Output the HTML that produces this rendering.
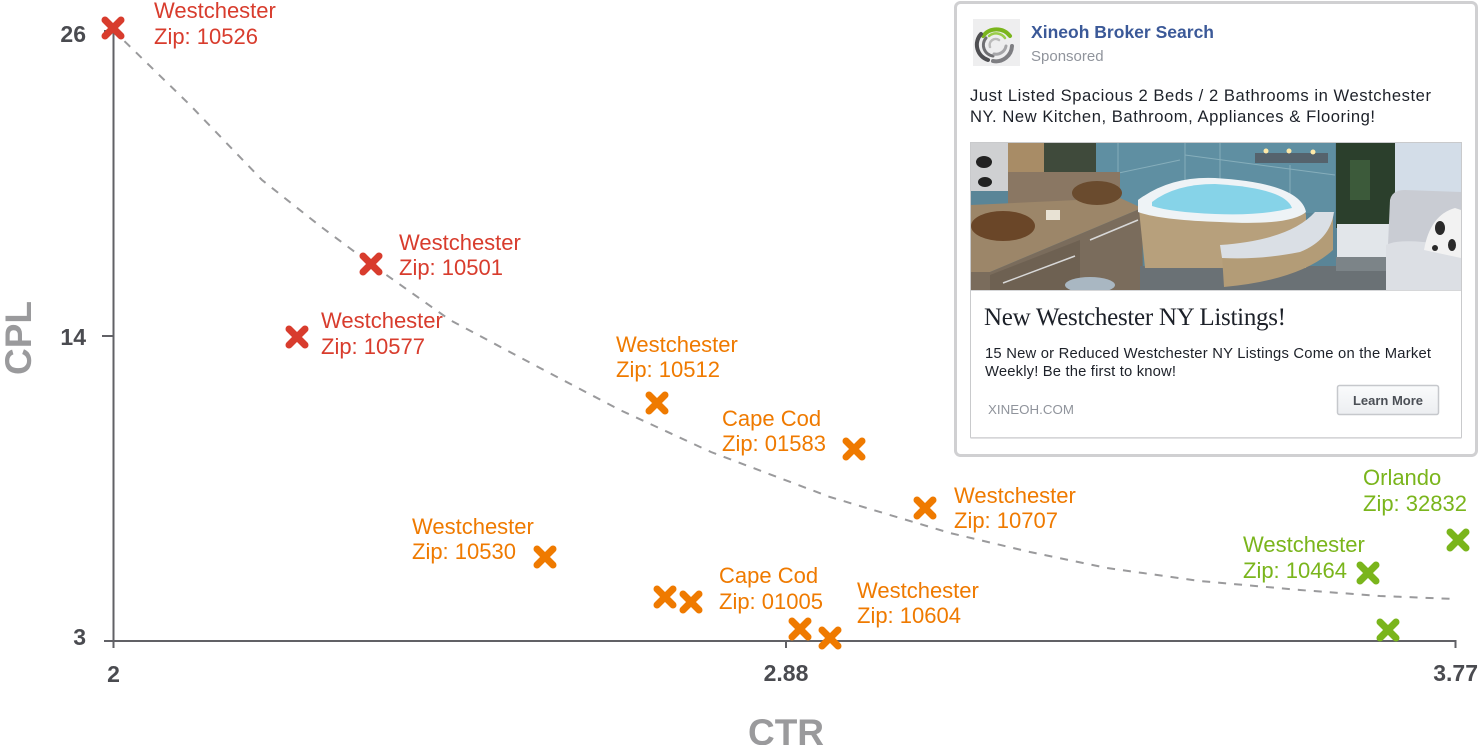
<!DOCTYPE html>
<html><head><meta charset="utf-8">
<style>
html,body{margin:0;padding:0;background:#fff;}
svg{display:block;}
text{font-family:"Liberation Sans",Arial,sans-serif;}
</style></head>
<body>
<svg width="1480" height="745" viewBox="0 0 1480 745" xmlns="http://www.w3.org/2000/svg">
<rect x="0" y="0" width="1480" height="745" fill="#fff"/>

<!-- axes -->
<g stroke="#616166" stroke-width="2" fill="none">
  <line x1="113.5" y1="30" x2="113.5" y2="648"/>
  <line x1="104" y1="641" x2="1456" y2="641"/>
  <line x1="1455.5" y1="640" x2="1455.5" y2="648"/>
  <line x1="786" y1="641" x2="786" y2="648"/>
  <line x1="102" y1="336" x2="113" y2="336"/>
  <line x1="104" y1="31" x2="113" y2="31"/>
</g>

<!-- tick labels -->
<g font-weight="bold" font-size="23" fill="#4a4b50">
  <text x="86" y="42" text-anchor="end">26</text>
  <text x="86" y="345" text-anchor="end">14</text>
  <text x="86" y="645" text-anchor="end">3</text>
  <text x="113.5" y="682" text-anchor="middle">2</text>
  <text x="786" y="681" text-anchor="middle">2.88</text>
  <text x="1478" y="681" text-anchor="end">3.77</text>
</g>

<!-- axis titles -->
<text x="786" y="745" text-anchor="middle" font-weight="bold" font-size="37" fill="#9a9a9c">CTR</text>
<text transform="translate(31,338) rotate(-90)" text-anchor="middle" font-weight="bold" font-size="37" fill="#9a9a9c">CPL</text>

<!-- trend curve -->
<polyline fill="none" stroke="#9a9a9c" stroke-width="2" stroke-dasharray="8 8"
 points="113,30 190,105 262,180 320,226 371,264 450,320 540,368 620,410 711,452 830,497 950,533 1030,552 1107,568 1200,581 1300,590 1380,596 1455,599"/>

<!-- markers -->
<g fill="none" stroke-width="7" stroke-linecap="round">
  <g stroke="#d83c2d">
    <path d="M105,20 L121,36 M121,20 L105,36"/>
    <path d="M363,256 L379,272 M379,256 L363,272"/>
    <path d="M289,329 L305,345 M305,329 L289,345"/>
  </g>
  <g stroke="#ef7a00">
    <path d="M649,395 L665,411 M665,395 L649,411"/>
    <path d="M846,441 L862,457 M862,441 L846,457"/>
    <path d="M917,500 L933,516 M933,500 L917,516"/>
    <path d="M537,549 L553,565 M553,549 L537,565"/>
    <path d="M657,589 L673,605 M673,589 L657,605"/>
    <path d="M683,594 L699,610 M699,594 L683,610"/>
    <path d="M792,621 L808,637 M808,621 L792,637"/>
    <path d="M822,630 L838,646 M838,630 L822,646"/>
  </g>
  <g stroke="#7ab51c">
    <path d="M1450,532 L1466,548 M1466,532 L1450,548"/>
    <path d="M1360,565 L1376,581 M1376,565 L1360,581"/>
    <path d="M1380,622 L1396,638 M1396,622 L1380,638"/>
  </g>
</g>

<!-- labels -->
<g font-size="22">
  <g fill="#d83c2d">
    <text x="154" y="18">Westchester</text><text x="154" y="44">Zip: 10526</text>
    <text x="399" y="250">Westchester</text><text x="399" y="275">Zip: 10501</text>
    <text x="321" y="328">Westchester</text><text x="321" y="354">Zip: 10577</text>
  </g>
  <g fill="#ef7a00">
    <text x="616" y="352">Westchester</text><text x="616" y="377">Zip: 10512</text>
    <text x="722" y="426">Cape Cod</text><text x="722" y="451">Zip: 01583</text>
    <text x="954" y="503">Westchester</text><text x="954" y="528">Zip: 10707</text>
    <text x="412" y="534">Westchester</text><text x="412" y="559">Zip: 10530</text>
    <text x="719" y="583">Cape Cod</text><text x="719" y="609">Zip: 01005</text>
    <text x="857" y="598">Westchester</text><text x="857" y="623">Zip: 10604</text>
  </g>
  <g fill="#7ab51c">
    <text x="1363" y="485">Orlando</text><text x="1363" y="511">Zip: 32832</text>
    <text x="1243" y="552">Westchester</text><text x="1243" y="578">Zip: 10464</text>
  </g>
</g>

<!-- Ad card -->
<rect x="955.5" y="2.5" width="521" height="453" rx="5" ry="5" fill="#fff" stroke="#d0d0d2" stroke-width="3"/>
<!-- logo -->
<rect x="973" y="19" width="47" height="47" fill="#eeeeef"/>
<g fill="none" stroke-linecap="round">
  <path d="M1010,36 A17,17 0 0 0 983,36" stroke="#7ab51c" stroke-width="4"/>
  <path d="M1005,38 A11,11 0 0 0 989,36" stroke="#9acd4a" stroke-width="2.5"/>
  <path d="M981,34 A16,16 0 0 0 988,60" stroke="#4f4f52" stroke-width="4"/>
  <path d="M986,38 A11,11 0 0 0 993,56" stroke="#6f6f72" stroke-width="3"/>
  <path d="M1012,46 A16,16 0 0 1 993,61" stroke="#7e7e82" stroke-width="4"/>
  <path d="M1006,46 A10,10 0 0 1 994,54" stroke="#a5a5a8" stroke-width="3"/>
  <path d="M990,47 A6,6 0 0 1 999,40" stroke="#bbb" stroke-width="2.5"/>
</g>
<text x="1031" y="38" font-size="17.5" font-weight="bold" fill="#3b5998" textLength="183">Xineoh Broker Search</text>
<text x="1031" y="61" font-size="15" fill="#90949c">Sponsored</text>
<text x="970" y="101" font-size="16.6" fill="#1d2129" textLength="461">Just Listed Spacious 2 Beds / 2 Bathrooms in Westchester</text>
<text x="970" y="122" font-size="16.6" fill="#1d2129" textLength="405">NY. New Kitchen, Bathroom, Appliances &amp; Flooring!</text>

<!-- inner card -->
<rect x="970.5" y="142.5" width="491" height="295" fill="#fff" stroke="#c9cacc" stroke-width="1"/>
<rect x="970.5" y="437.5" width="491" height="1.5" fill="#e2e2e4"/>

<!-- photo -->
<defs><clipPath id="ph"><rect x="971" y="143" width="490" height="147"/></clipPath></defs>
<g clip-path="url(#ph)">
  <rect x="971" y="143" width="490" height="147" fill="#5a8597"/>
  <!-- tile wall -->
  <rect x="1095" y="143" width="240" height="70" fill="#5f8fa2"/>
  <g stroke="#86aebb" stroke-width="1">
    <line x1="1118" y1="143" x2="1118" y2="205"/><line x1="1185" y1="143" x2="1185" y2="185"/>
    <line x1="1220" y1="143" x2="1220" y2="180"/><line x1="1290" y1="165" x2="1290" y2="210"/>
    <line x1="1095" y1="178" x2="1180" y2="160"/><line x1="1185" y1="155" x2="1335" y2="175"/>
  </g>
  <rect x="1255" y="153" width="73" height="10" fill="#55636d"/>
  <circle cx="1266" cy="151" r="2.5" fill="#ffe9a8"/><circle cx="1289" cy="151" r="2.5" fill="#ffe9a8"/><circle cx="1313" cy="152" r="2.5" fill="#ffe9a8"/>
  <!-- left cabinet / mirror -->
  <rect x="971" y="143" width="38" height="48" fill="#cfd0d2"/>
  <ellipse cx="984" cy="162" rx="8" ry="6" fill="#222"/>
  <ellipse cx="985" cy="182" rx="7" ry="5" fill="#222"/>
  <rect x="1008" y="143" width="36" height="34" fill="#a88c66"/>
  <rect x="1044" y="143" width="52" height="32" fill="#3f4a3b"/>
  <rect x="1008" y="172" width="112" height="35" fill="#8a7763"/>
  <!-- countertop -->
  <polygon points="971,205 1120,198 1142,208 990,272 971,272" fill="#9c8669"/>
  <ellipse cx="1003" cy="226" rx="32" ry="15" fill="#6a4628"/>
  <ellipse cx="1097" cy="193" rx="25" ry="12" fill="#6a4b2e"/>
  <rect x="1046" y="210" width="14" height="10" fill="#e8e2d4"/>
  <!-- vanity front -->
  <polygon points="971,272 990,272 1142,208 1143,290 971,290" fill="#7a6c5c"/>
  <polygon points="990,275 1080,240 1080,290 990,290" fill="#6e6152"/>
  <line x1="1003" y1="283" x2="1075" y2="256" stroke="#d8d8d8" stroke-width="1.5"/>
  <line x1="1090" y1="240" x2="1138" y2="220" stroke="#d8d8d8" stroke-width="1.5"/>
  <ellipse cx="1090" cy="285" rx="25" ry="8" fill="#a9b7c2"/>
  <!-- floor -->
  <rect x="1140" y="266" width="260" height="24" fill="#6a7175"/>
  <!-- tub -->
  <path d="M1138,200 Q1170,178 1215,180 Q1300,185 1306,215 L1306,268 L1145,268 Z" fill="#b7a07c"/>
  <path d="M1138,200 Q1170,176 1215,178 Q1300,183 1306,212 Q1290,226 1220,222 Q1160,220 1138,212 Z" fill="#eef3f6"/>
  <path d="M1152,202 Q1175,184 1215,184 Q1285,188 1292,208 Q1260,216 1215,214 Q1170,212 1152,206 Z" fill="#86d3e8"/>
  <!-- step -->
  <path d="M1222,255 Q1290,248 1318,215 L1333,215 L1333,250 Q1300,280 1224,287 Z" fill="#b39c77"/>
  <path d="M1220,245 Q1290,240 1315,212 L1334,212 Q1330,240 1300,252 Q1260,260 1222,258 Z" fill="#dadfe5"/>
  <!-- plants -->
  <rect x="1336" y="143" width="60" height="85" fill="#2b3f2c"/>
  <rect x="1350" y="160" width="20" height="40" fill="#3c5a3a"/>
  <rect x="1337" y="224" width="65" height="33" fill="#e2e6ea"/>
  <rect x="1336" y="257" width="60" height="14" fill="#7c8488"/>
  <!-- curtain & sofa -->
  <rect x="1395" y="143" width="66" height="100" fill="#d3dde8"/>
  <path d="M1390,200 Q1392,190 1405,190 L1461,192 L1461,290 L1386,290 Z" fill="#c9ccd3"/>
  <path d="M1386,245 Q1400,238 1440,244 L1461,248 L1461,290 L1386,290 Z" fill="#dcdfe4"/>
  <path d="M1424,250 Q1430,215 1455,208 L1461,210 L1461,258 Z" fill="#f2f2f2"/>
  <ellipse cx="1440" cy="228" rx="5" ry="7" fill="#2a2a2a"/>
  <ellipse cx="1452" cy="245" rx="4" ry="6" fill="#2a2a2a"/>
  <ellipse cx="1435" cy="248" rx="3" ry="3" fill="#2a2a2a"/>
</g>
<line x1="971" y1="290.5" x2="1461" y2="290.5" stroke="#d6d7d9" stroke-width="1"/>

<text x="984" y="325" font-size="25" fill="#1d2129" textLength="302" style="font-family:'Liberation Serif',serif">New Westchester NY Listings!</text>
<text x="985" y="358" font-size="14.8" fill="#1d2129" textLength="446">15 New or Reduced Westchester NY Listings Come on the Market</text>
<text x="985" y="376" font-size="14.8" fill="#1d2129" textLength="191">Weekly! Be the first to know!</text>
<text x="988" y="414" font-size="13.3" fill="#90949c" textLength="86">XINEOH.COM</text>

<defs><linearGradient id="btn" x1="0" y1="0" x2="0" y2="1"><stop offset="0" stop-color="#fafbfc"/><stop offset="1" stop-color="#eceef1"/></linearGradient></defs>
<rect x="1337.5" y="385.5" width="101" height="29" rx="2" fill="url(#btn)" stroke="#c6c8cc" stroke-width="1.5"/>
<text x="1388" y="405" text-anchor="middle" font-size="13" font-weight="bold" fill="#4b4f56">Learn More</text>
</svg>
</body></html>
